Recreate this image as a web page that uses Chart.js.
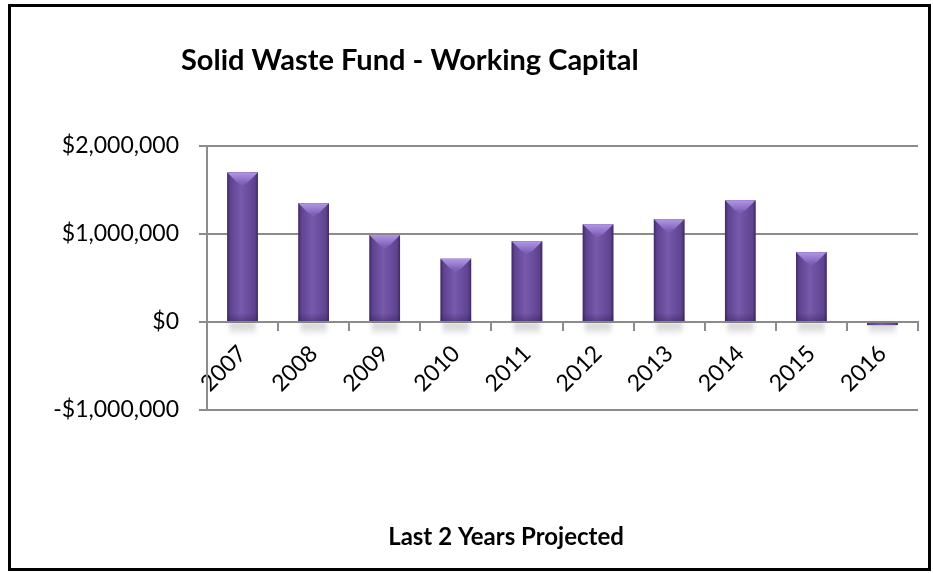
<!DOCTYPE html>
<html lang="en">
<head>
  <meta charset="UTF-8" />
  <title>Solid Waste Fund - Working Capital</title>
  <script src="https://cdn.jsdelivr.net/npm/chart.js"></script>
  <style>
    html, body { margin: 0; padding: 0; background: #fff; }
    .frame {
      position: absolute; left: 8px; top: 4px;
      width: 917px; height: 561px;
      border: 3px solid #000; box-sizing: content-box;
    }
    canvas { position: absolute; left: 0; top: 0; }
  </style>
</head>
<body>
  <div class="frame"></div>
  <canvas id="wcChart" width="933" height="573"></canvas>

  <script>
    const years = ['2007', '2008', '2009', '2010', '2011', '2012', '2013', '2014', '2015', '2016'];
    const workingCapital = [1700000, 1350000, 990000, 718000, 918000, 1110000, 1168000, 1383000, 794000, -35000];
    const yTicks = [-1000000, 0, 1000000, 2000000];

    const chartTitle = 'Solid Waste Fund - Working Capital';
    const footNote = 'Last 2 Years Projected';

    const FONT = 'Lato, "Open Sans", sans-serif';

    function money(v) {
      const s = '$' + Math.abs(v).toLocaleString('en-US');
      return v < 0 ? '-' + s : s;
    }

    // soft shadow under each bar, painted before the bars
    const barShadow = {
      id: 'barShadow',
      beforeDatasetsDraw(chart) {
        const ctx = chart.ctx;
        const zero = chart.scales.y.getPixelForValue(0);
        chart.getDatasetMeta(0).data.forEach(bar => {
          const w = bar.width;
          const g = ctx.createLinearGradient(0, zero, 0, zero + 14);
          g.addColorStop(0, 'rgba(0,0,0,0.22)');
          g.addColorStop(1, 'rgba(0,0,0,0)');
          ctx.save();
          ctx.fillStyle = g;
          ctx.filter = 'blur(2px)';
          ctx.fillRect(bar.x - w / 2 + 2, zero + 1, w - 4, 12);
          ctx.restore();
        });
      }
    };

    // side shading and top bevel on every bar
    const barBevel = {
      id: 'barBevel',
      afterDatasetsDraw(chart) {
        const ctx = chart.ctx;
        chart.getDatasetMeta(0).data.forEach(bar => {
          const w = bar.width;
          const left = bar.x - w / 2;
          const top = Math.min(bar.y, bar.base);
          const h = Math.abs(bar.base - bar.y);
          ctx.save();
          const g = ctx.createLinearGradient(left, 0, left + w, 0);
          g.addColorStop(0, '#3e2a62');
          g.addColorStop(0.1, '#5e4390');
          g.addColorStop(0.45, '#7859ac');
          g.addColorStop(0.9, '#5e4390');
          g.addColorStop(1, '#3e2a62');
          ctx.fillStyle = g;
          ctx.fillRect(left, top, w, h);
          if (h > 12) {
            const d = Math.min(10, h / 2);
            ctx.beginPath();
            ctx.moveTo(left, top);
            ctx.lineTo(left + w, top);
            ctx.lineTo(left + w - d, top + d);
            ctx.lineTo(left + d, top + d);
            ctx.closePath();
            const tg = ctx.createLinearGradient(0, top, 0, top + d);
            tg.addColorStop(0, '#b197e6');
            tg.addColorStop(1, '#8466bd');
            ctx.fillStyle = tg;
            ctx.fill();
            ctx.beginPath();
            ctx.moveTo(left + d, top + d);
            ctx.lineTo(left + w - d, top + d);
            ctx.lineTo(bar.x, top + d + 3);
            ctx.closePath();
            ctx.fillStyle = 'rgba(140,110,200,0.5)';
            ctx.fill();
            const bg = ctx.createLinearGradient(0, top + h - 8, 0, top + h);
            bg.addColorStop(0, 'rgba(40,25,70,0)');
            bg.addColorStop(1, 'rgba(40,25,70,0.35)');
            ctx.fillStyle = bg;
            ctx.fillRect(left, top + h - 8, w, 8);
          }
          ctx.restore();
        });
      }
    };

    const captions = {
      id: 'captions',
      afterDraw(chart) {
        const ctx = chart.ctx;
        ctx.save();
        ctx.fillStyle = '#000';
        ctx.textBaseline = 'alphabetic';
        ctx.font = 'bold 29px ' + FONT;
        ctx.textAlign = 'left';
        ctx.fillText(chartTitle, 181, 70);
        ctx.font = 'bold 24px ' + FONT;
        ctx.textAlign = 'center';
        ctx.fillText(footNote, 506, 545);
        ctx.restore();
      }
    };

    new Chart(document.getElementById('wcChart'), {
      type: 'bar',
      data: {
        labels: years,
        datasets: [{
          data: workingCapital,
          backgroundColor: '#6b4e9e',
          borderWidth: 0,
          barPercentage: 0.43,
          categoryPercentage: 1
        }]
      },
      options: {
        responsive: false,
        animation: false,
        layout: { padding: { left: 0, top: 146, right: 15, bottom: 163 } },
        plugins: {
          legend: { display: false },
          tooltip: { enabled: false }
        },
        scales: {
          x: {
            position: { y: 0 },
            offset: true,
            grid: {
              offset: true,
              drawOnChartArea: false,
              drawTicks: true,
              tickLength: 8,
              color: '#8c8c8c',
              lineWidth: 2
            },
            border: { color: '#8c8c8c', width: 2 },
            ticks: {
              color: '#000',
              font: { family: FONT, size: 23 },
              minRotation: 45,
              maxRotation: 45,
              padding: 10,
              autoSkip: false
            }
          },
          y: {
            min: -1000000,
            max: 2000000,
            afterFit(scale) { scale.width = 207; },
            afterBuildTicks(scale) { scale.ticks = yTicks.map(v => ({ value: v })); },
            grid: {
              color: '#8c8c8c',
              lineWidth: 2,
              tickLength: 8
            },
            border: { color: '#8c8c8c', width: 2 },
            ticks: {
              color: '#000',
              font: { family: FONT, size: 23 },
              padding: 20,
              callback: v => money(v)
            }
          }
        }
      },
      plugins: [barShadow, barBevel, captions]
    });
  </script>
</body>
</html>
